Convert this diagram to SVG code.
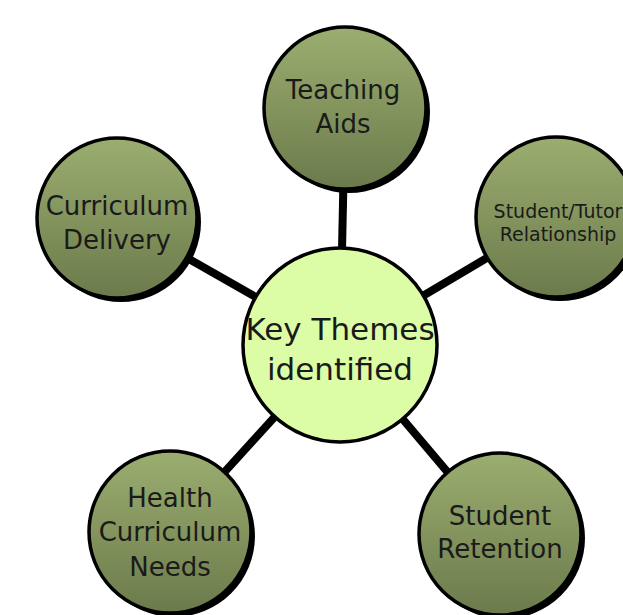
<svg xmlns="http://www.w3.org/2000/svg" width="623" height="615" viewBox="0 0 623 615">
<defs>
<linearGradient id="g" x1="0" y1="0" x2="0" y2="1">
<stop offset="0" stop-color="#9bae70"/>
<stop offset="1" stop-color="#6b7a4b"/>
</linearGradient>
<style>
.n{fill:url(#g);stroke:#000;stroke-width:3.5}
.s{fill:#000}
.c{fill:#dcfda6;stroke:#000;stroke-width:3.5}
.t{font-family:"DejaVu Sans","Liberation Sans",sans-serif;font-size:26px;fill:#1a1a1a;text-anchor:middle}
.conn line{stroke:#000;stroke-width:8}
</style>
</defs>
<rect width="623" height="615" fill="#fff"/>
<g class="conn">
<line x1="340" y1="345" x2="345" y2="108"/>
<line x1="340" y1="345" x2="117" y2="218"/>
<line x1="340" y1="345" x2="556" y2="217"/>
<line x1="340" y1="345" x2="170" y2="532"/>
<line x1="340" y1="345" x2="500" y2="534"/>
</g>
<g id="teaching">
<circle class="s" cx="349" cy="112" r="81"/>
<circle class="n" cx="345" cy="108" r="81"/>
<text class="t" x="343" y="99">Teaching</text>
<text class="t" x="343" y="133">Aids</text>
</g>
<g id="curriculum">
<circle class="s" cx="121" cy="222" r="80"/>
<circle class="n" cx="117" cy="218" r="80"/>
<text class="t" x="117" y="215">Curriculum</text>
<text class="t" x="117" y="249">Delivery</text>
</g>
<g id="tutor">
<circle class="s" cx="560" cy="221" r="80"/>
<circle class="n" cx="556" cy="217" r="80"/>
<text class="t" x="558" y="218" style="font-size:19px">Student/Tutor</text>
<text class="t" x="558" y="241" style="font-size:19px">Relationship</text>
</g>
<g id="health">
<circle class="s" cx="174" cy="536" r="81"/>
<circle class="n" cx="170" cy="532" r="81"/>
<text class="t" x="170" y="507">Health</text>
<text class="t" x="170" y="541">Curriculum</text>
<text class="t" x="170" y="576">Needs</text>
</g>
<g id="retention">
<circle class="s" cx="504" cy="538" r="81"/>
<circle class="n" cx="500" cy="534" r="81"/>
<text class="t" x="500" y="525">Student</text>
<text class="t" x="500" y="558">Retention</text>
</g>
<g id="center">
<circle class="c" cx="340" cy="345" r="97"/>
<text class="t" x="340" y="340" style="font-size:31px">Key Themes</text>
<text class="t" x="340" y="380" style="font-size:31px">identified</text>
</g>
</svg>
